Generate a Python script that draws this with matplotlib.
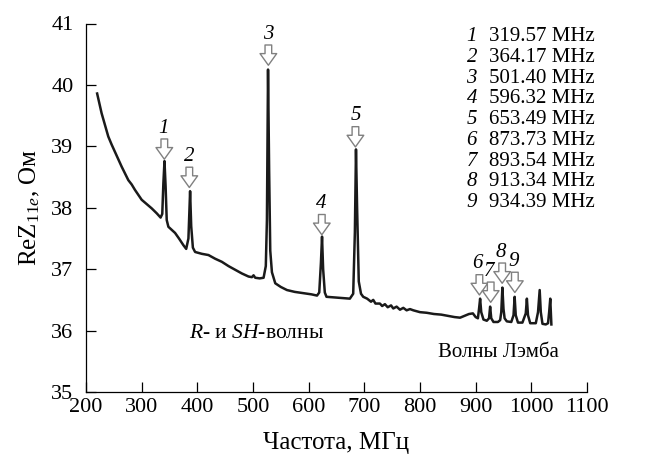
import matplotlib
matplotlib.use("Agg")
import matplotlib.pyplot as plt

plt.rcParams['font.family'] = ['Liberation Serif', 'DejaVu Serif']
plt.rcParams['mathtext.fontset'] = 'custom'
plt.rcParams['mathtext.rm'] = 'Liberation Serif'
plt.rcParams['mathtext.it'] = 'Liberation Serif:italic'

# ---- data ----
freq = [220, 224, 228, 234, 240, 246, 252, 258, 264, 270, 276, 282, 288, 294, 300,
        309, 318, 327, 334, 337, 339, 341, 343, 345, 348, 354, 360, 367, 375, 380,
        384, 387, 389, 392, 396, 408, 420, 432, 444, 456, 468, 480, 492, 498, 501,
        504, 512, 519, 523, 525, 527, 529, 531, 534, 540, 550, 561, 575, 590, 605,
        615, 619, 622, 624, 626, 629, 632, 645, 660, 674, 680, 683, 685, 687, 690,
        694, 698, 705, 712, 716, 720, 728, 732, 737, 742, 748, 752, 758, 764, 770,
        776, 782, 788, 800, 812, 825, 838, 850, 862, 872, 880, 888, 895, 900, 904,
        906, 908, 910, 914, 920, 924, 926, 928, 932, 940, 944, 946, 948, 950, 952,
        956, 964, 968, 970, 972, 976, 984, 990, 992, 994, 998, 1008, 1012, 1015, 1017,
        1020, 1026, 1030, 1032, 1034, 1035, 1036]
rez = [39.86, 39.70, 39.54, 39.35, 39.16, 39.03, 38.91, 38.79, 38.67, 38.56, 38.45, 38.38, 38.29, 38.21, 38.13,
       38.06, 37.99, 37.91, 37.84, 37.90, 38.40, 38.76, 38.35, 37.80, 37.69, 37.64, 37.59, 37.50, 37.39, 37.33,
       37.50, 38.27, 37.70, 37.35, 37.28, 37.25, 37.23, 37.17, 37.12, 37.05, 36.99, 36.93, 36.88, 36.87, 36.90,
       36.86, 36.85, 36.86, 37.05, 37.80, 40.25, 38.60, 37.30, 36.95, 36.77, 36.71, 36.66, 36.63, 36.61, 36.59,
       36.57, 36.62, 37.10, 37.53, 37.00, 36.62, 36.55, 36.54, 36.53, 36.52, 36.60, 37.60, 38.95, 38.00, 36.80,
       36.60, 36.55, 36.52, 36.47, 36.50, 36.44, 36.44, 36.40, 36.43, 36.38, 36.41, 36.36, 36.39, 36.34, 36.37,
       36.33, 36.35, 36.33, 36.30, 36.29, 36.27, 36.26, 36.24, 36.22, 36.21, 36.24, 36.27, 36.28, 36.22, 36.20,
       36.35, 36.52, 36.30, 36.18, 36.16, 36.20, 36.39, 36.20, 36.14, 36.14, 36.17, 36.30, 36.70, 36.35, 36.20,
       36.15, 36.14, 36.25, 36.55, 36.25, 36.13, 36.13, 36.28, 36.52, 36.25, 36.12, 36.12, 36.30, 36.66, 36.30,
       36.11, 36.10, 36.12, 36.30, 36.52, 36.30, 36.10]

peak_labels = ['1', '2', '3', '4', '5', '6', '7', '8', '9']
peak_values = ['319.57', '364.17', '501.40', '596.32', '653.49',
               '873.73', '893.54', '913.34', '934.39']
# arrow markers (frequency, arrow tip value, label value)
arrow_freq = [340.7, 385.6, 527.6, 623.6, 684.0, 906.7, 927.0, 947.6, 970.4]
arrow_tip = [38.79, 38.33, 40.32, 37.56, 38.99, 36.58, 36.46, 36.77, 36.62]
label_freq = [340.0, 385.0, 527.0, 623.0, 684.0, 904.0, 924.0, 946.0, 969.0]

xticks = [200, 300, 400, 500, 600, 700, 800, 900, 1000, 1100]
yticks = [35, 36, 37, 38, 39, 40, 41]

fig = plt.figure(figsize=(6.46, 4.59), dpi=100)
ax = fig.add_axes([86/646, 1-392/459, 501/646, 368.5/459])

ax.plot(freq, rez, color='#1a1a1a', lw=1.8, solid_joinstyle='round')

ax.set_xlim(200, 1100)
ax.set_ylim(35, 41)
ax.set_xticks(xticks)
ax.set_yticks(yticks)
ax.spines['top'].set_visible(False)
ax.spines['right'].set_visible(False)
for s in ['left', 'bottom']:
    ax.spines[s].set_linewidth(0.9)
ax.tick_params(axis='both', direction='in', length=7, width=0.9, labelsize=16)
ax.tick_params(axis='y', pad=9)
ax.tick_params(axis='x', pad=4)

ax.set_xlabel('Частота, МГц', fontsize=18, labelpad=11)
ax.set_ylabel(r'Re$\mathrm{Z}_{\mathrm{11}e}$, Ом', fontsize=18, labelpad=7)

arrow_len = 0.33
for i, (lab, xf, tip, lf) in enumerate(zip(peak_labels, arrow_freq, arrow_tip, label_freq)):
    ax.annotate('', xy=(xf, tip), xytext=(xf, tip + arrow_len),
                arrowprops=dict(arrowstyle='simple,head_length=0.7,head_width=1.0,tail_width=0.4',
                                fc='white', ec='#808080', lw=1.0, mutation_scale=12,
                                shrinkA=0, shrinkB=0))
    ax.text(lf, tip + arrow_len + 0.02, lab, fontsize=15, style='italic',
            ha='center', va='bottom')

# list of resonances
for i, (lab, val) in enumerate(zip(peak_labels, peak_values)):
    y = 1 - (36.7 + i * 20.75) / 459
    fig.text(477/646, y, lab, fontsize=15, style='italic', ha='right', va='center')
    fig.text(489/646, y, f'{val} MHz', fontsize=15, ha='left', va='center')

ax.text(385, 35.95, r'$\mathit{R}$- и $\mathit{SH}$-волны', fontsize=15.5, ha='left', va='center')
ax.text(832, 35.65, 'Волны Лэмба', fontsize=15, ha='left', va='center')

fig.savefig('out.png', dpi=100)
